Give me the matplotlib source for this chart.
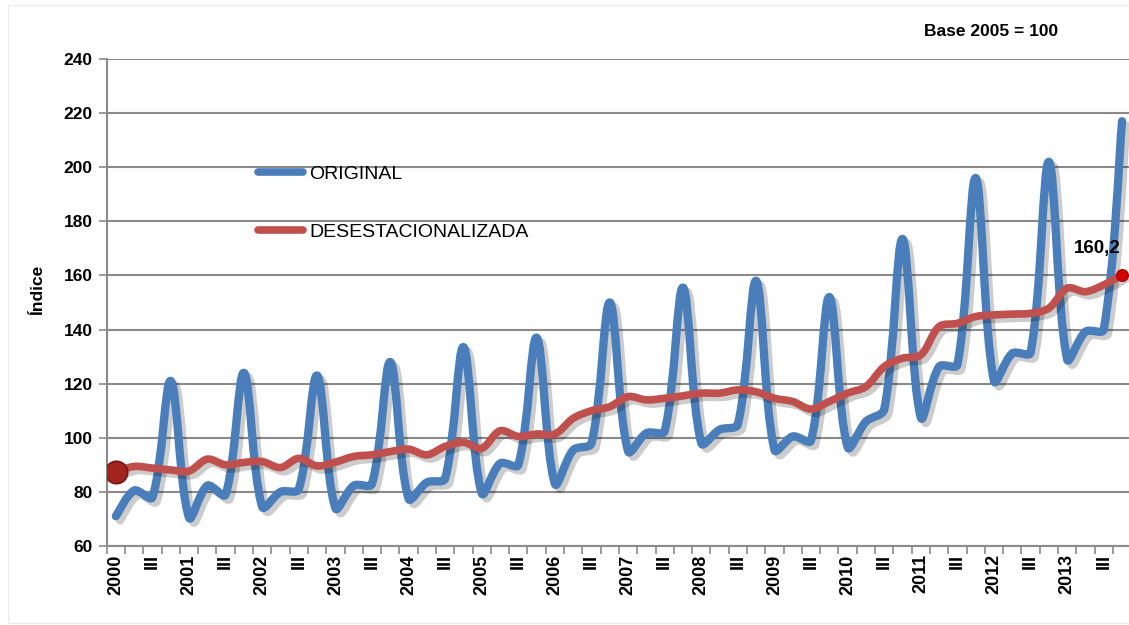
import numpy as np
import matplotlib
matplotlib.use("Agg")
import matplotlib.pyplot as plt
from matplotlib.path import Path
from matplotlib.patches import PathPatch, Rectangle
from matplotlib.lines import Line2D
import matplotlib.patheffects as pe

plt.rcParams['font.family'] = ['Liberation Sans', 'DejaVu Sans']

# ---------------- data ----------------
years = list(range(2000, 2014))
quarter_labels = []
for yr in years:
    quarter_labels += [str(yr), "", "III", ""]

original = [
    71.0, 80.5, 78.0, 121.0,      # 2000
    70.5, 82.3, 79.0, 124.0,      # 2001
    74.5, 80.0, 81.0, 123.0,      # 2002
    74.0, 82.3, 83.0, 128.0,      # 2003
    77.5, 83.5, 85.0, 133.5,      # 2004
    79.5, 90.5, 90.0, 137.0,      # 2005
    83.0, 95.5, 98.0, 150.0,      # 2006
    95.0, 101.7, 102.5, 155.5,    # 2007
    98.0, 103.0, 105.0, 158.0,    # 2008
    95.5, 100.5, 99.0, 152.0,     # 2009
    96.5, 106.0, 110.5, 173.5,    # 2010
    107.5, 126.3, 127.0, 196.0,   # 2011
    121.0, 131.2, 131.5, 202.0,   # 2012
    129.0, 139.2, 140.0, 217.0,   # 2013
]
desestacionalizada = [
    87.5, 89.4, 88.8, 88.1,
    87.7, 92.1, 90.0, 90.9,
    91.2, 89.0, 92.4, 89.6,
    91.0, 93.1, 93.7, 94.9,
    95.8, 93.7, 96.8, 98.3,
    96.1, 102.6, 100.5, 101.4,
    101.4, 107.2, 110.0, 111.5,
    115.2, 114.0, 114.6, 115.5,
    116.5, 116.5, 117.7, 117.0,
    114.6, 113.4, 110.6, 113.4,
    116.5, 118.9, 126.3, 129.4,
    130.6, 141.1, 142.3, 144.8,
    145.4, 145.7, 146.0, 147.9,
    155.3, 154.0, 156.5, 160.2,
]
series_names = ["ORIGINAL", "DESESTACIONALIZADA"]
last_label = "160,2"
base_text = "Base 2005 = 100"
y_label = "Índice"
y_ticks = list(range(60, 241, 20))

BLUE = "#4a7ebb"
RED = "#c0504d"
GRID = "#8a8a8a"


def smooth_path(ax, x, y, tension=1 / 3):
    """Excel-like smoothed line: Bezier through the data points, with
    tangents weighted by neighbouring segment lengths on screen."""
    T = ax.transData
    P = T.transform(np.column_stack([np.asarray(x, float), np.asarray(y, float)]))
    n = len(P)
    L = np.hypot(*(P[1:] - P[:-1]).T)
    verts = [P[0]]
    codes = [Path.MOVETO]
    for i in range(n - 1):
        a = i - 1 if i > 0 else i
        b = i + 2 if i + 2 < n else i + 1
        d1 = P[i + 1] - P[a]
        lp = L[i - 1] if i > 0 else L[i]
        w1 = L[i] / (lp + L[i]) if (lp + L[i]) > 0 else 0.5
        c1 = P[i] + d1 * tension * w1
        d2 = P[b] - P[i]
        ln = L[i + 1] if i + 1 < n - 1 else L[i]
        w2 = L[i] / (L[i] + ln) if (L[i] + ln) > 0 else 0.5
        c2 = P[i + 1] - d2 * tension * w2
        verts += [c1, c2, P[i + 1]]
        codes += [Path.CURVE4] * 3
    verts = T.inverted().transform(np.array(verts))
    return Path(verts, codes)


W, H = 1129, 625
fig = plt.figure(figsize=(W / 100, H / 100), dpi=100)
fig.patch.set_facecolor("white")
fig.add_artist(Rectangle((8 / W, 2 / H), (W - 6) / W, (H - 7) / H, transform=fig.transFigure,
                         fill=False, edgecolor="#ececec", lw=1))

ax = fig.add_axes([106.7 / W, 79 / H, 1024.5 / W, 487 / H])
x = np.arange(len(original))
ax.set_xlim(-0.5, len(original) - 0.5)
ax.set_ylim(60, 240)

shadow = [pe.SimpleLineShadow(offset=(3, -3), shadow_color="black", alpha=0.2),
          pe.Normal()]

p1 = PathPatch(smooth_path(ax, x, original), fill=False, edgecolor=BLUE, lw=6.0,
               capstyle="round", joinstyle="round", zorder=3)
p1.set_path_effects(shadow)
ax.add_patch(p1)

p2 = PathPatch(smooth_path(ax, x, desestacionalizada), fill=False, edgecolor=RED, lw=5.5,
               capstyle="round", joinstyle="round", zorder=4)
p2.set_path_effects(shadow)
ax.add_patch(p2)

# markers
ax.scatter([x[0]], [desestacionalizada[0]], s=260, color="#a3231f", edgecolor="#7a1512",
           linewidth=1.2, zorder=6)
ax.scatter([x[-1]], [desestacionalizada[-1]], s=70, color="#d40000", edgecolor="#b00000",
           zorder=6)
ax.annotate(last_label, (x[-1], desestacionalizada[-1]), xytext=(-18, 19),
            textcoords="offset points", ha="center", va="center",
            fontsize=13.5, fontweight="bold", zorder=7)

ax.set_yticks(y_ticks)
ax.set_yticklabels([str(v) for v in y_ticks], fontsize=12.5, fontweight="bold")
ax.set_xticks(x)
ax.set_xticklabels(quarter_labels, rotation=90, fontsize=13, fontweight="bold")
ax.set_xticks(np.arange(-0.5, len(original) + 0.5, 1), minor=True)
ax.tick_params(axis="x", which="major", length=0, pad=6)
ax.tick_params(axis="x", which="minor", length=6, width=1.2, color=GRID)
ax.tick_params(axis="y", which="major", length=6, width=1.2, color=GRID, pad=4)

ax.grid(axis="y", color=GRID, lw=1.5, zorder=0)
ax.set_axisbelow(True)
for side in ["top", "right"]:
    ax.spines[side].set_visible(False)
for side in ["left", "bottom"]:
    ax.spines[side].set_color(GRID)
    ax.spines[side].set_linewidth(1.5)

handles = [Line2D([0], [0], color=BLUE, lw=5.5, solid_capstyle="round"),
           Line2D([0], [0], color=RED, lw=5.5, solid_capstyle="round")]
ax.legend(handles, series_names, loc="upper left", bbox_to_anchor=(0.148, 0.782),
          frameon=False, fontsize=14, handlelength=2.3, handletextpad=0.3,
          labelspacing=2.1, borderpad=0, borderaxespad=0)

fig.text(991 / W, 1 - 32 / H, base_text, ha="center", va="center", fontsize=12.5,
         fontweight="bold")
fig.text(38 / W, 1 - 290 / H, y_label, ha="center", va="center", rotation=90,
         fontsize=12.5, fontweight="bold")

fig.savefig("out.png", dpi=100, facecolor="white")
